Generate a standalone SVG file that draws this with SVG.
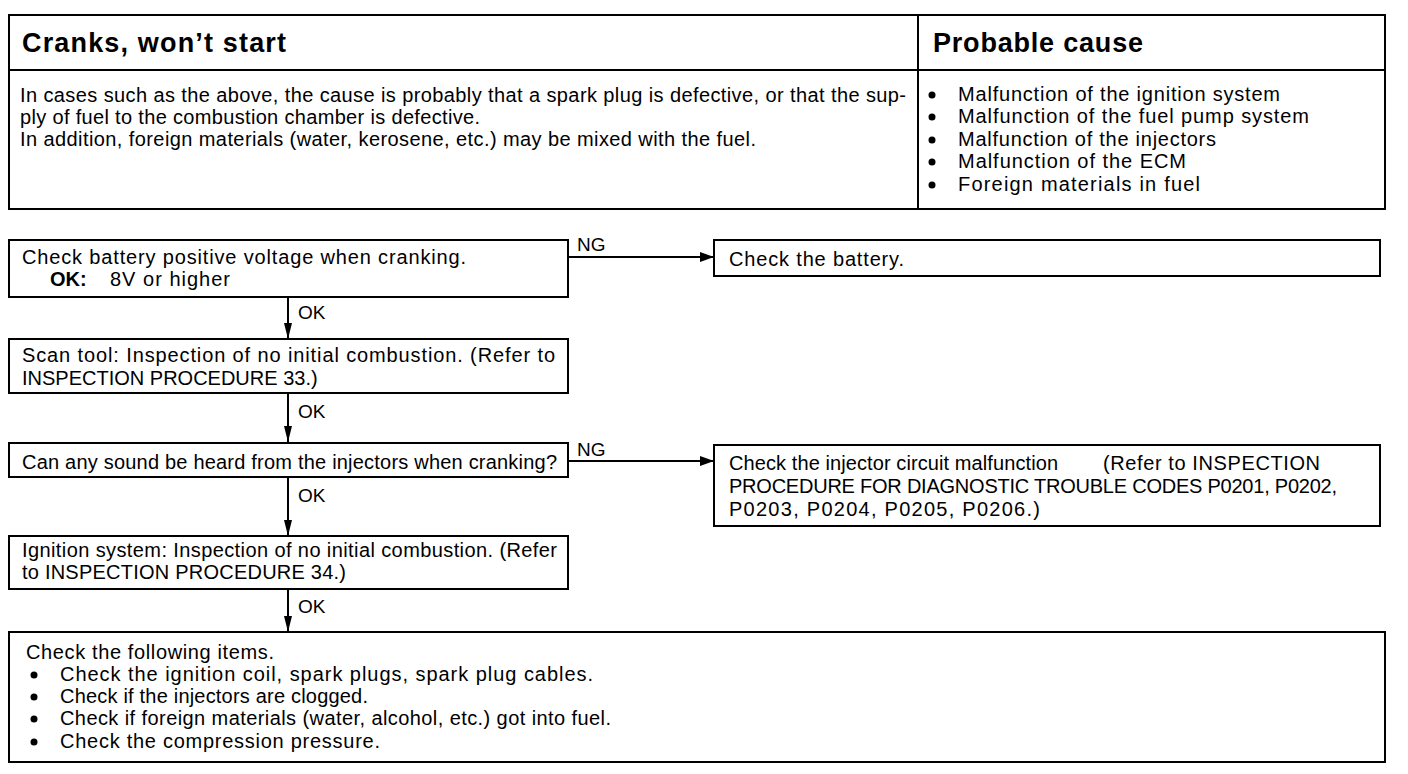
<svg xmlns="http://www.w3.org/2000/svg" width="1408" height="774" viewBox="0 0 1408 774">
<style>
text{font-family:"Liberation Sans",Arial,sans-serif;fill:#000}
.t{font-size:20px}
.h{font-size:27px;font-weight:bold}
.b{font-weight:bold}
.box{fill:#fff;stroke:#000;stroke-width:2}
.ln{fill:none;stroke:#000;stroke-width:2}
.lbl{font-size:19px}
</style>
<defs>
<marker id="ah" markerWidth="14" markerHeight="10" refX="14" refY="5" orient="auto" markerUnits="userSpaceOnUse">
<path d="M0,0 L14,5 L0,10 z" fill="#000"/>
</marker>
<marker id="av" markerWidth="16" markerHeight="8" refX="16" refY="4" orient="auto" markerUnits="userSpaceOnUse">
<path d="M0,0 L16,4 L0,8 z" fill="#000"/>
</marker>
</defs>
<rect width="1408" height="774" fill="#fff"/>

<g id="header-table">
<rect class="box" x="9" y="15" width="1376" height="194"/>
<line class="ln" x1="9" y1="70" x2="1385" y2="70"/>
<line class="ln" x1="918" y1="15" x2="918" y2="209"/>
<text class="h" x="22" y="52" textLength="264">Cranks, won’t start</text>
<text class="h" x="933" y="52" textLength="210">Probable cause</text>
<text class="t" x="20" y="102" textLength="886">In cases such as the above, the cause is probably that a spark plug is defective, or that the sup-</text>
<text class="t" x="20" y="124" textLength="460">ply of fuel to the combustion chamber is defective.</text>
<text class="t" x="20" y="146" textLength="736">In addition, foreign materials (water, kerosene, etc.) may be mixed with the fuel.</text>
<circle cx="932" cy="95" r="3.5"/>
<circle cx="932" cy="117" r="3.5"/>
<circle cx="932" cy="140" r="3.5"/>
<circle cx="932" cy="162" r="3.5"/>
<circle cx="932" cy="185" r="3.5"/>
<text class="t" x="958" y="101" textLength="322">Malfunction of the ignition system</text>
<text class="t" x="958" y="123" textLength="351">Malfunction of the fuel pump system</text>
<text class="t" x="958" y="146" textLength="258">Malfunction of the injectors</text>
<text class="t" x="958" y="168" textLength="228">Malfunction of the ECM</text>
<text class="t" x="958" y="191" textLength="242">Foreign materials in fuel</text>
</g>

<g id="connectors">
<line class="ln" x1="568" y1="257" x2="714" y2="257" marker-end="url(#ah)"/>
<line class="ln" x1="568" y1="461" x2="714" y2="461" marker-end="url(#ah)"/>
<line class="ln" x1="288" y1="297" x2="288" y2="339" marker-end="url(#av)"/>
<line class="ln" x1="288" y1="393" x2="288" y2="442" marker-end="url(#av)"/>
<line class="ln" x1="288" y1="477" x2="288" y2="536" marker-end="url(#av)"/>
<line class="ln" x1="288" y1="589" x2="288" y2="632" marker-end="url(#av)"/>
<text class="lbl" x="577" y="251">NG</text>
<text class="lbl" x="577" y="456">NG</text>
<text class="lbl" x="298" y="319">OK</text>
<text class="lbl" x="298" y="418">OK</text>
<text class="lbl" x="298" y="502">OK</text>
<text class="lbl" x="298" y="613">OK</text>
</g>

<g id="n-battery-voltage">
<rect class="box" x="9" y="240" width="559" height="57"/>
<text class="t" x="22" y="264" textLength="444">Check battery positive voltage when cranking.</text>
<text class="t" x="50" y="286"><tspan class="b">OK:</tspan><tspan x="110" textLength="120">8V or higher</tspan></text>
</g>

<g id="n-check-battery">
<rect class="box" x="714" y="240" width="666" height="36"/>
<text class="t" x="729" y="266" textLength="175">Check the battery.</text>
</g>

<g id="n-scan-tool">
<rect class="box" x="9" y="339" width="559" height="54"/>
<text class="t" x="22" y="362" textLength="533">Scan tool: Inspection of no initial combustion. (Refer to</text>
<text class="t" x="22" y="385">INSPECTION PROCEDURE 33.)</text>
</g>

<g id="n-injector-sound">
<rect class="box" x="9" y="443" width="559" height="34"/>
<text class="t" x="22" y="469" textLength="535">Can any sound be heard from the injectors when cranking?</text>
</g>

<g id="n-injector-circuit">
<rect class="box" x="714" y="445" width="666" height="81"/>
<text class="t" x="729" y="470" textLength="329">Check the injector circuit malfunction</text>
<text class="t" x="1103" y="470" textLength="217">(Refer to  INSPECTION</text>
<text class="t" x="729" y="493" textLength="608">PROCEDURE FOR DIAGNOSTIC TROUBLE CODES P0201, P0202,</text>
<text class="t" x="729" y="516" textLength="311">P0203, P0204, P0205, P0206.)</text>
</g>

<g id="n-ignition">
<rect class="box" x="9" y="536" width="559" height="53"/>
<text class="t" x="22" y="557" textLength="535">Ignition system: Inspection of no initial combustion. (Refer</text>
<text class="t" x="22" y="579" textLength="324">to INSPECTION PROCEDURE 34.)</text>
</g>

<g id="n-check-items">
<rect class="box" x="9" y="632" width="1376" height="130"/>
<text class="t" x="26" y="659" textLength="248">Check the following items.</text>
<circle cx="34" cy="675" r="3.5"/>
<circle cx="34" cy="697" r="3.5"/>
<circle cx="34" cy="719" r="3.5"/>
<circle cx="34" cy="742" r="3.5"/>
<text class="t" x="60" y="681" textLength="533">Check the ignition coil, spark plugs, spark plug cables.</text>
<text class="t" x="60" y="703" textLength="308">Check if the injectors are clogged.</text>
<text class="t" x="60" y="725" textLength="551">Check if foreign materials (water, alcohol, etc.) got into fuel.</text>
<text class="t" x="60" y="748" textLength="320">Check the compression pressure.</text>
</g>
</svg>
